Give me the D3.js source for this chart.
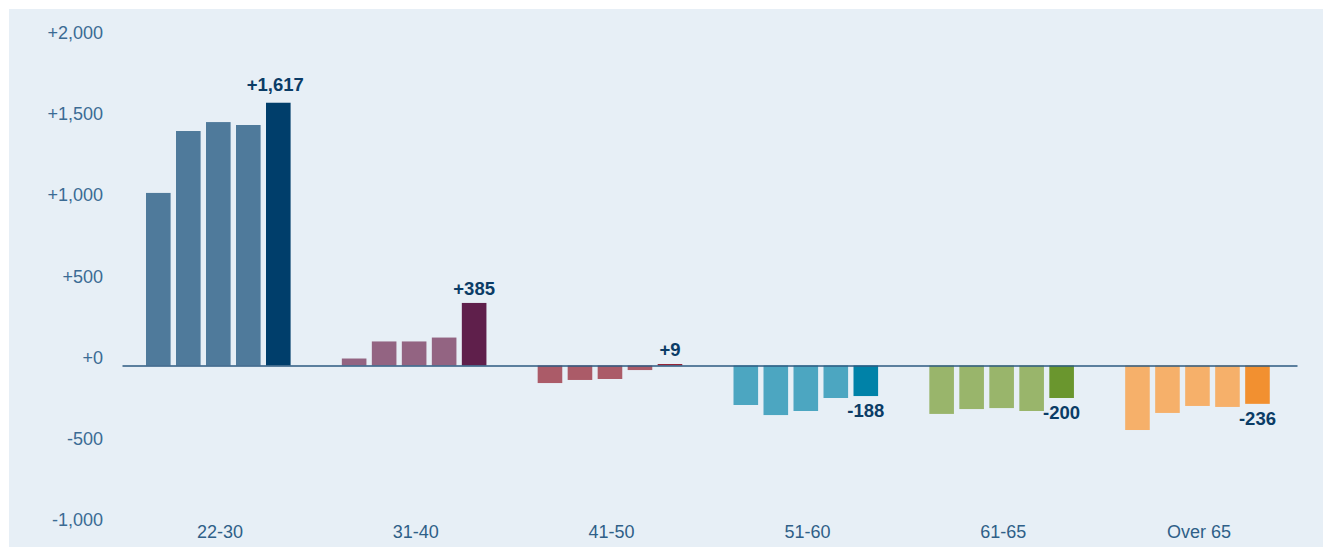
<!DOCTYPE html>
<html><head><meta charset="utf-8">
<script src="https://cdn.jsdelivr.net/npm/d3@7"></script>
<style>
html,body{margin:0;padding:0;background:#fff;}
svg{display:block;}
</style></head>
<body>
<svg id="c" width="1323" height="547"></svg>
<script>
const categories = ["22-30","31-40","41-50","51-60","61-65","Over 65"];
const seriesKeys = ["s1","s2","s3","s4","s5"];
const values_22_30 = [1062, 1443, 1498, 1480, 1617];
const values_31_40 = [43, 148, 148, 172, 385];
const values_41_50 = [-108, -89, -83, -28, 9];
const values_51_60 = [-243, -305, -280, -200, -188];
const values_61_65 = [-298, -268, -262, -280, -200];
const values_over65 = [-397, -292, -249, -255, -236];
const labels = ["+1,617","+385","+9","-188","-200","-236"];
const yTicks = [2000, 1500, 1000, 500, 0, -500, -1000];
const yTickLabels = ["+2,000","+1,500","+1,000","+500","+0","-500","-1,000"];
const lightColors = ["#4f7a9b","#936482","#ab5b68","#4ca6c1","#99b56b","#f6b06a"];
const darkColors  = ["#003e6b","#5f1f4b","#921c30","#0082a8","#6a962e","#f29030"];

const groups = [values_22_30, values_31_40, values_41_50, values_51_60, values_61_65, values_over65];
const data = categories.map((c,i)=>({cat:c, vals:groups[i], label:labels[i], i}));

const svg = d3.select("#c");
svg.append("rect").attr("x",9).attr("y",9).attr("width",1314).attr("height",538).attr("fill","#e7eff6");

const y = d3.scaleLinear().domain([-1000,2000]).range([528,40.5]);
const x0 = d3.scaleBand().domain(categories).range([122,1297]).padding(0);
const x1 = d3.scaleBand().domain(seriesKeys).range([24,168.6]).paddingInner(0.18).paddingOuter(0);

const font = "'Liberation Sans', Arial, Helvetica, sans-serif";

// y tick labels
const yAxis = d3.axisLeft(y).tickValues(yTicks).tickSize(0).tickFormat((d,i)=>yTickLabels[i]);
const gy = svg.append("g").attr("transform","translate(103,-8)").call(yAxis);
gy.select(".domain").remove();
gy.selectAll("text").attr("font-family",font).attr("font-size",18).attr("fill","#3b6b94").attr("x",0);

// bars
const g = svg.append("g");
data.forEach(d=>{
  const gg = g.append("g").attr("transform",`translate(${x0(d.cat)},0)`);
  gg.selectAll("rect").data(d.vals).join("rect")
    .attr("x",(v,j)=>x1(seriesKeys[j]))
    .attr("width",x1.bandwidth())
    .attr("y",v=>Math.min(y(v),y(0)))
    .attr("height",v=>Math.abs(y(v)-y(0)))
    .attr("fill",(v,j)=> j===4 ? darkColors[d.i] : lightColors[d.i]);
  const last = d.vals[4];
  gg.append("text")
    .attr("x", x1("s5")+x1.bandwidth()/2 - (d.i===0 ? 3 : 0))
    .attr("y", last>=0 ? y(last)-(d.i===0 ? 12 : 8) : y(last)+21)
    .attr("text-anchor","middle")
    .attr("font-family",font).attr("font-weight","bold").attr("font-size",18.5)
    .attr("fill","#0b3c66")
    .text(d.label);
});

// zero line + category labels
const xAxis = d3.axisBottom(x0).tickSize(0).tickPadding(0);
const gx = svg.append("g").attr("transform",`translate(0,${y(0)})`).call(xAxis);
gx.select(".domain").attr("stroke","#2d5a80").attr("stroke-width",1.6);
gx.selectAll("text").attr("font-family",font).attr("font-size",18).attr("fill","#2f5f88")
  .attr("y", 532 - y(0) + 6).attr("dy",0);
</script>
</body></html>
